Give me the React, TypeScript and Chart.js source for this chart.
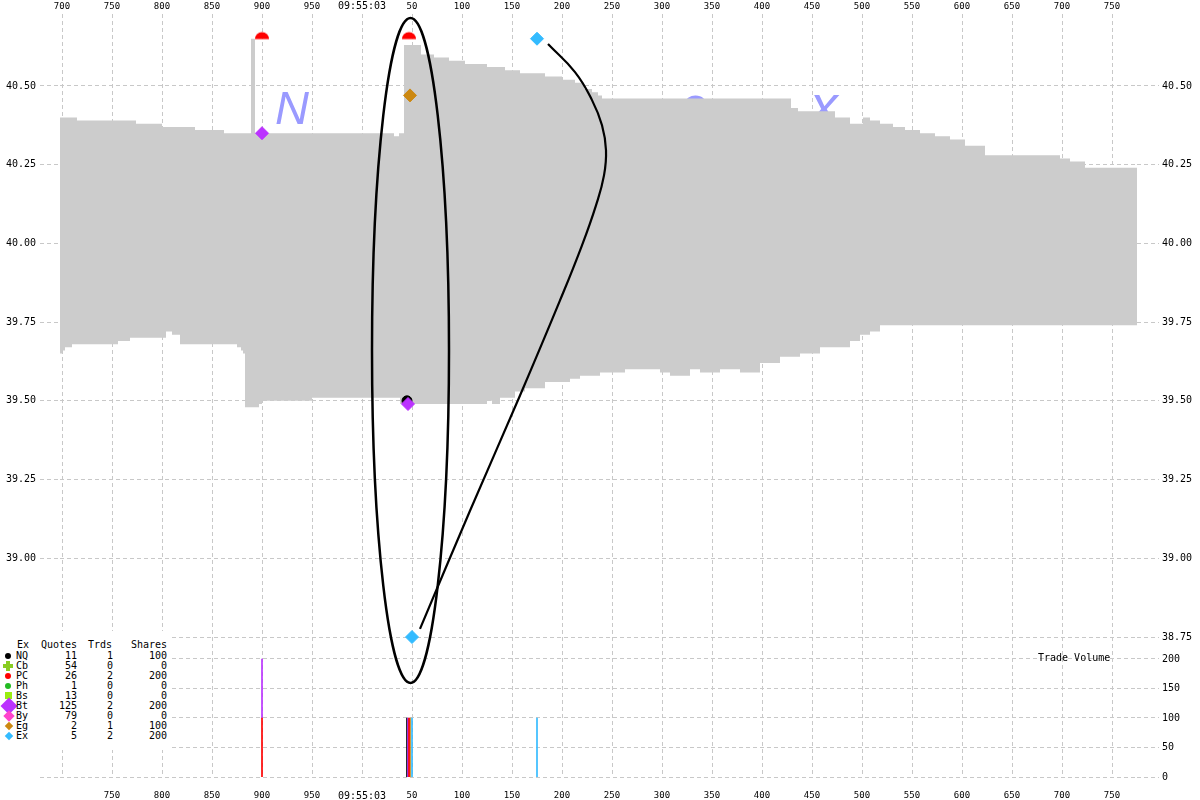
import React, { useEffect, useRef } from 'react';
import { Chart, registerables } from 'chart.js';

Chart.register(...registerables);

// ---- time axis (milliseconds relative to 09:55:03.000) ----
const TIME_MIN = -302;
const TIME_MAX = 775;
const TOP_TIME_TICKS = [-300, -250, -200, -150, -100, -50, 0, 50, 100, 150, 200, 250, 300, 350, 400, 450, 500, 550, 600, 650, 700, 750];
const TOP_TIME_LABELS = ['700', '750', '800', '850', '900', '950', '09:55:03', '50', '100', '150', '200', '250', '300', '350', '400', '450', '500', '550', '600', '650', '700', '750'];
const BOTTOM_TIME_TICKS = [-250, -200, -150, -100, -50, 0, 50, 100, 150, 200, 250, 300, 350, 400, 450, 500, 550, 600, 650, 700, 750];
const BOTTOM_TIME_LABELS = ['750', '800', '850', '900', '950', '09:55:03', '50', '100', '150', '200', '250', '300', '350', '400', '450', '500', '550', '600', '650', '700', '750'];

// ---- price / volume axes ----
const PRICE_MIN = 38.3055;
const PRICE_MAX = 40.7285;
const PRICE_TICKS = [38.75, 39.0, 39.25, 39.5, 39.75, 40.0, 40.25, 40.5];
const VOLUME_MAX = 1293;
const VOLUME_TICKS = [0, 50, 100, 150, 200];

// ---- NBBO (ask / bid), each value holds from its time until the next ----
const ASK_T = [-302, -285, -226, -200, -167, -138, -111, -107, 32, 37, 42, 59, 72, 87, 103, 125, 143, 158, 183, 200, 213, 222, 230, 236, 240, 429, 436, 473, 488, 501, 508, 518, 531, 543, 558, 573, 588, 603, 623, 698, 708, 723, 775];
const ASK_P = [40.40, 40.39, 40.38, 40.37, 40.36, 40.35, 40.65, 40.35, 40.34, 40.35, 40.63, 40.60, 40.59, 40.58, 40.57, 40.56, 40.55, 40.54, 40.53, 40.52, 40.51, 40.49, 40.48, 40.47, 40.46, 40.43, 40.42, 40.40, 40.38, 40.40, 40.39, 40.38, 40.37, 40.36, 40.35, 40.34, 40.33, 40.31, 40.28, 40.27, 40.26, 40.24, 40.24];
const BID_T = [-302, -300, -297, -290, -244, -232, -196, -190, -182, -125, -121, -119, -117, -103, -100, -50, 38, 125, 130, 138, 153, 163, 183, 208, 218, 238, 263, 298, 308, 328, 338, 358, 378, 398, 418, 438, 458, 488, 498, 508, 518, 775];
const BID_P = [39.65, 39.66, 39.67, 39.68, 39.69, 39.70, 39.72, 39.71, 39.68, 39.67, 39.66, 39.65, 39.48, 39.49, 39.50, 39.51, 39.49, 39.50, 39.49, 39.51, 39.53, 39.54, 39.56, 39.57, 39.58, 39.59, 39.60, 39.59, 39.58, 39.60, 39.59, 39.60, 39.59, 39.62, 39.64, 39.65, 39.67, 39.69, 39.71, 39.72, 39.74, 39.74];

// ---- trades ----
const TRADE_EX = ['PC', 'Bt', 'NQ', 'Bt', 'PC', 'Eg', 'Ex', 'Ex'];
const TRADE_T = [-100, -100, 45, 46, 47, 48, 50, 175];
const TRADE_PRICE = [40.66, 40.35, 39.50, 39.49, 40.66, 40.47, 38.75, 40.65];
const TRADE_SHARES = [100, 100, 100, 100, 100, 100, 100, 100];

// ---- exchange summary table ----
const EX_CODES = ['NQ', 'Cb', 'PC', 'Ph', 'Bs', 'Bt', 'By', 'Eg', 'Ex'];
const EX_QUOTES = [11, 54, 26, 1, 13, 125, 79, 2, 5];
const EX_TRADES = [1, 0, 2, 0, 0, 2, 0, 1, 2];
const EX_SHARES = [100, 0, 200, 0, 0, 200, 0, 100, 200];

// ---- hand-drawn annotations (in data coordinates) ----
const CURVE_T = [186, 213, 230, 240, 244, 242, 234, 220, 198, 158, 108, 58];
const CURVE_P = [40.633, 40.544, 40.455, 40.375, 40.296, 40.216, 40.121, 39.994, 39.819, 39.517, 39.151, 38.776];
const ELLIPSE_T = 48.5;
const ELLIPSE_DT = 38.5;
const ELLIPSE_P = 39.66;
const ELLIPSE_DP = 1.056;

const WATERMARK_LETTERS = ['N', 'a', 'n', 'e', 'x'];

// ---- styles ----
const MONO = '"DejaVu Sans Mono", "Liberation Mono", monospace';
const GRID_COLOR = '#c8c8c8';
const DASH = [4, 3];
const EX_COLORS: Record<string, string> = {
  NQ: '#000000', Cb: '#88cc22', PC: '#ff0000', Ph: '#22bb22', Bs: '#99ee11',
  Bt: '#bb33ff', By: '#ff44cc', Eg: '#cc8811', Ex: '#33bbff',
};
const WATERMARK_X = [292, 424, 556, 694, 824];
const WATERMARK_SIZE = [47, 55, 55, 51, 55];
const WATERMARK_BASELINE = 124;

// volume ticks expressed on the price scale (both scales span the same chart area)
const volumeAsPrice = (v: number) => PRICE_MIN + (v / VOLUME_MAX) * (PRICE_MAX - PRICE_MIN);

export default function App() {
  const canvasRef = useRef<HTMLCanvasElement>(null);

  useEffect(() => {
    const canvas = canvasRef.current!;

    const half = document.createElement('canvas');
    half.width = 16;
    half.height = 12;
    const hctx = half.getContext('2d')!;
    hctx.fillStyle = EX_COLORS.PC;
    hctx.beginPath();
    hctx.arc(8, 9.5, 7, Math.PI, 0);
    hctx.closePath();
    hctx.fill();

    const markerStyle: Record<string, any> = {
      NQ: { pointStyle: 'circle', pointRadius: 5, order: 12 },
      PC: { pointStyle: half, pointRadius: 7, order: 11 },
      Bt: { pointStyle: 'rectRot', pointRadius: 6.5, order: 10 },
      Eg: { pointStyle: 'rectRot', pointRadius: 6.5, order: 9 },
      Ex: { pointStyle: 'rectRot', pointRadius: 6.5, order: 8 },
    };

    const datasets: any[] = [];
    datasets.push({
      type: 'line', label: 'Bid', xAxisID: 'x', yAxisID: 'y',
      data: BID_T.map((t, i) => ({ x: t, y: BID_P[i] })),
      stepped: true, borderWidth: 0, borderColor: 'rgba(0,0,0,0)', pointRadius: 0, fill: false, order: 101,
    });
    datasets.push({
      type: 'line', label: 'Ask', xAxisID: 'x', yAxisID: 'y',
      data: ASK_T.map((t, i) => ({ x: t, y: ASK_P[i] })),
      stepped: true, borderWidth: 0, borderColor: 'rgba(0,0,0,0)', backgroundColor: '#cccccc',
      pointRadius: 0, fill: 0, order: 100,
    });

    // volume bars (stacked per timestamp)
    const stackBase: Record<number, number> = {};
    const volByEx: Record<string, any[]> = {};
    TRADE_T.forEach((t, i) => {
      const base = stackBase[t] || 0;
      stackBase[t] = base + TRADE_SHARES[i];
      (volByEx[TRADE_EX[i]] = volByEx[TRADE_EX[i]] || []).push({ x: t, y: [base, base + TRADE_SHARES[i]] });
    });
    Object.keys(volByEx).forEach((ex) => {
      datasets.push({
        type: 'bar', label: ex + ' volume', data: volByEx[ex], xAxisID: 'x', yAxisID: 'yv',
        backgroundColor: EX_COLORS[ex], barThickness: 1, grouped: false, order: 50,
      });
    });

    // trade markers
    ['NQ', 'PC', 'Bt', 'Eg', 'Ex'].forEach((ex) => {
      const pts: any[] = [];
      TRADE_T.forEach((t, i) => {
        if (TRADE_EX[i] === ex) pts.push({ x: t, y: TRADE_PRICE[i] });
      });
      const st = markerStyle[ex];
      datasets.push({
        type: 'line', label: ex, data: pts, showLine: false, xAxisID: 'x', yAxisID: 'y',
        pointStyle: st.pointStyle, pointRadius: st.pointRadius,
        pointBackgroundColor: EX_COLORS[ex], pointBorderColor: EX_COLORS[ex], pointBorderWidth: 1,
        order: st.order,
      });
    });

    // annotation curve
    datasets.push({
      type: 'line', label: 'curve', xAxisID: 'x', yAxisID: 'y',
      data: CURVE_T.map((t, i) => ({ x: t, y: CURVE_P[i] })),
      borderColor: '#000000', borderWidth: 2.2, tension: 0.45, pointRadius: 0, fill: false, order: 1,
    });

    const watermarkPlugin = {
      id: 'watermark',
      beforeDatasetsDraw(chart: any) {
        const ctx = chart.ctx;
        ctx.save();
        ctx.fillStyle = '#9a9aff';
        ctx.textAlign = 'center';
        ctx.textBaseline = 'alphabetic';
        WATERMARK_LETTERS.forEach((ch, i) => {
          ctx.font = `italic ${WATERMARK_SIZE[i]}px "Liberation Sans", Arial, sans-serif`;
          ctx.fillText(ch, WATERMARK_X[i], WATERMARK_BASELINE);
        });
        ctx.restore();
      },
    };

    const ellipsePlugin = {
      id: 'ellipse',
      afterDatasetsDraw(chart: any) {
        const { ctx, scales } = chart;
        const cx = scales.x.getPixelForValue(ELLIPSE_T);
        const cy = scales.y.getPixelForValue(ELLIPSE_P);
        const rx = Math.abs(scales.x.getPixelForValue(ELLIPSE_T + ELLIPSE_DT) - cx);
        const ry = Math.abs(scales.y.getPixelForValue(ELLIPSE_P + ELLIPSE_DP) - cy);
        ctx.save();
        ctx.strokeStyle = '#000000';
        ctx.lineWidth = 2.5;
        ctx.beginPath();
        ctx.ellipse(cx, cy, rx, ry, 0, 0, Math.PI * 2);
        ctx.stroke();
        ctx.restore();
      },
    };

    const tickFont = { family: MONO, size: 10 };
    const nPrice = PRICE_TICKS.length;
    const combinedTicks = (s: any) => {
      s.ticks = PRICE_TICKS.map((value) => ({ value })).concat(VOLUME_TICKS.map((v) => ({ value: volumeAsPrice(v) })));
    };
    const timeFont = (c: any) => ({ family: MONO, size: c.tick && c.tick.value === 0 ? 10 : 9 });

    const chart = new Chart(canvas, {
      type: 'line',
      data: { datasets },
      plugins: [watermarkPlugin, ellipsePlugin],
      options: {
        responsive: false,
        animation: false,
        events: [],
        layout: { padding: 0 },
        plugins: { legend: { display: false }, tooltip: { enabled: false }, title: { display: false } },
        scales: {
          x: {
            type: 'linear', position: 'top', min: TIME_MIN, max: TIME_MAX, offset: false,
            afterBuildTicks: (s: any) => { s.ticks = TOP_TIME_TICKS.map((value) => ({ value })); },
            afterFit: (s: any) => { s.height = 14; },
            grid: { color: GRID_COLOR, drawTicks: false, offset: false, tickBorderDash: DASH },
            border: { display: false, dash: DASH },
            ticks: {
              autoSkip: false, maxRotation: 0, minRotation: 0, padding: 2, color: '#000',
              font: timeFont,
              callback: (v: any) => TOP_TIME_LABELS[TOP_TIME_TICKS.indexOf(v)] ?? '',
            },
          },
          x2: {
            type: 'linear', position: 'bottom', min: TIME_MIN, max: TIME_MAX, offset: false,
            afterBuildTicks: (s: any) => { s.ticks = BOTTOM_TIME_TICKS.map((value) => ({ value })); },
            afterFit: (s: any) => { s.height = 23; },
            grid: { display: false, drawTicks: false, offset: false },
            border: { display: false },
            ticks: {
              autoSkip: false, maxRotation: 0, minRotation: 0, padding: 13, color: '#000',
              font: timeFont,
              callback: (v: any) => BOTTOM_TIME_LABELS[BOTTOM_TIME_TICKS.indexOf(v)] ?? '',
            },
          },
          yv: {
            type: 'linear', display: false, min: 0, max: VOLUME_MAX,
          },
          y: {
            type: 'linear', position: 'left', min: PRICE_MIN, max: PRICE_MAX,
            afterBuildTicks: combinedTicks,
            afterFit: (s: any) => { s.width = 60; },
            grid: { color: GRID_COLOR, drawOnChartArea: true, tickLength: 20, tickBorderDash: DASH, tickColor: GRID_COLOR },
            border: { display: false, dash: DASH },
            ticks: {
              autoSkip: false, padding: 4, color: '#000', font: tickFont,
              callback: (v: any, i: number) => (i < nPrice ? Number(v).toFixed(2) : ''),
            },
          },
          yr: {
            type: 'linear', position: 'right', min: PRICE_MIN, max: PRICE_MAX,
            afterBuildTicks: combinedTicks,
            afterFit: (s: any) => { s.width = 63; },
            grid: { color: GRID_COLOR, drawOnChartArea: false, tickLength: 22, tickBorderDash: DASH, tickColor: GRID_COLOR },
            border: { display: false, dash: DASH },
            ticks: {
              autoSkip: false, padding: 3, color: '#000', font: tickFont,
              callback: (v: any, i: number) => (i < nPrice ? Number(v).toFixed(2) : String(VOLUME_TICKS[i - nPrice])),
            },
          },
        },
      } as any,
    });

    return () => chart.destroy();
  }, []);

  const legendMarker = (code: string) => {
    const c = EX_COLORS[code];
    const base: React.CSSProperties = { position: 'absolute', background: c };
    switch (code) {
      case 'NQ':
      case 'PC':
      case 'Ph':
        return <div style={{ ...base, left: 5, top: 2, width: 6, height: 6, borderRadius: '50%' }} />;
      case 'Cb':
        return <div style={{ ...base, left: 3, top: 0, width: 10, height: 10, clipPath: 'polygon(30% 0,70% 0,70% 30%,100% 30%,100% 70%,70% 70%,70% 100%,30% 100%,30% 70%,0 70%,0 30%,30% 30%)' }} />;
      case 'Bs':
        return <div style={{ ...base, left: 5, top: 1, width: 7, height: 7 }} />;
      case 'Bt':
        return <div style={{ ...base, left: 3, top: -1, width: 12, height: 12, transform: 'rotate(45deg)' }} />;
      case 'By':
        return <div style={{ ...base, left: 5, top: 1, width: 8, height: 8, transform: 'rotate(45deg)' }} />;
      default:
        return <div style={{ ...base, left: 6, top: 2, width: 6, height: 6, transform: 'rotate(45deg)' }} />;
    }
  };

  const cell = (text: string | number, left: number, width: number, align: 'left' | 'right'): React.ReactNode => (
    <span style={{ position: 'absolute', left, width, textAlign: align, whiteSpace: 'pre' }}>{text}</span>
  );

  return (
    <div style={{ position: 'absolute', left: 0, top: 0, width: 1200, height: 800, background: '#ffffff', overflow: 'hidden' }}>
      <canvas ref={canvasRef} width={1200} height={800} style={{ position: 'absolute', left: 0, top: 0, width: 1200, height: 800 }} />
      <div style={{ position: 'absolute', left: 0, top: 631, width: 172, height: 119, background: '#ffffff', fontFamily: MONO, fontSize: 10, lineHeight: '10px', color: '#000' }}>
        <div style={{ position: 'absolute', left: 0, top: 9, width: 172, height: 10 }}>
          {cell('Ex', 17, 20, 'left')}
          {cell('Quotes', 41, 40, 'left')}
          {cell('Trds', 88, 30, 'left')}
          {cell('Shares', 131, 40, 'left')}
        </div>
        {EX_CODES.map((code, i) => (
          <div key={code} style={{ position: 'absolute', left: 0, top: 20 + i * 10, width: 172, height: 10 }}>
            {legendMarker(code)}
            {cell(code, 16, 20, 'left')}
            {cell(EX_QUOTES[i], 37, 40, 'right')}
            {cell(EX_TRADES[i], 80, 33, 'right')}
            {cell(EX_SHARES[i], 120, 47, 'right')}
          </div>
        ))}
      </div>
      <div style={{ position: 'absolute', left: 1038, top: 653, fontFamily: MONO, fontSize: 10, lineHeight: '10px', color: '#000', whiteSpace: 'pre' }}>Trade Volume</div>
    </div>
  );
}
